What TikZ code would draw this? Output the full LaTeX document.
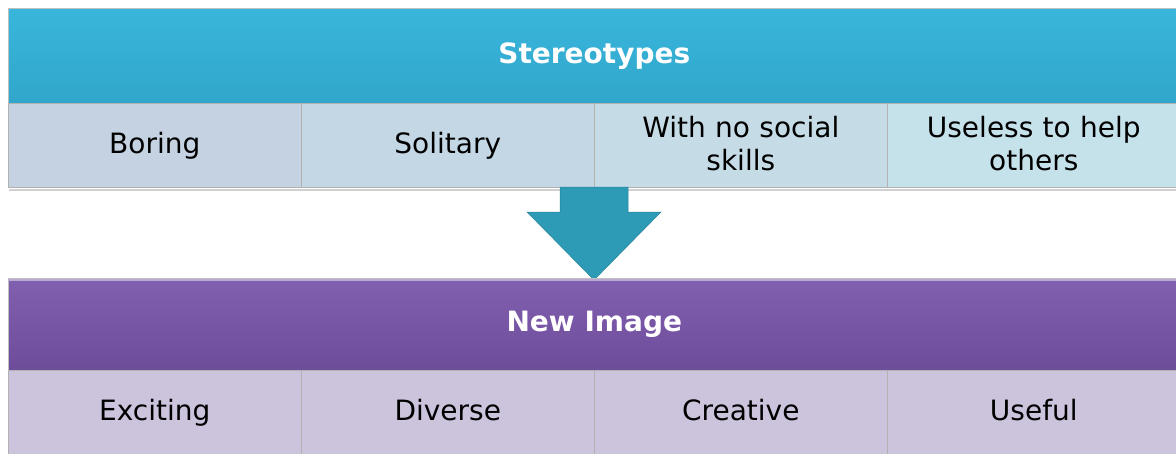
\documentclass[tikz,border=0pt]{standalone}
\usepackage{fontspec}
\setmainfont{DejaVu Sans}

\definecolor{headBlueTop}{HTML}{39B6DC}
\definecolor{headBlueBot}{HTML}{31A6CB}
\definecolor{cellBlueA}{HTML}{C4D2E2}
\definecolor{cellBlueB}{HTML}{C5E1EA}
\definecolor{headPurpTop}{HTML}{8260B0}
\definecolor{headPurpBot}{HTML}{6D4C9A}
\definecolor{cellPurp}{HTML}{CCC3DC}
\definecolor{arrowTeal}{HTML}{2E9BB6}

\newcommand\cellstrut{\rule[-7pt]{0pt}{31pt}}

\begin{document}
\begin{tikzpicture}[x=1pt,y=-1pt,
    head/.style={anchor=north west,inner sep=0pt,minimum width=1172pt,
        minimum height=#1,draw=white!75!black,line width=0.6pt,
        text=white,font=\fontsize{28}{33}\selectfont\bfseries},
    cell/.style={anchor=north west,inner sep=0pt,minimum width=293pt,
        minimum height=84pt,draw=white!70!black,line width=0.6pt,
        align=center,text width=280pt,font=\fontsize{28}{33}\selectfont,
        execute at begin node=\cellstrut,execute at end node=\cellstrut}]
    \clip (0,0) rectangle (1176,453);

    % top block
    \path[fill=black!18] (9,189) rectangle (1176,191);
    \node[head=95pt,top color=headBlueTop,bottom color=headBlueBot]
        (stereo) at (8,8) {Stereotypes};
    \foreach \i/\txt in {0/Boring,1/Solitary,2/{With no social\\skills},3/{Useless to help\\others}}{
        \pgfmathtruncatemacro\mix{100-33*\i}
        \node[cell,fill=cellBlueA!\mix!cellBlueB] (top\i) at (8+293*\i,103) {\txt};
    }

    % arrow
    \path[fill=arrowTeal,draw=arrowTeal!85!black,line width=0.5pt]
        (560,187) -- ++(0,25) -- ++(-33,0) -- ++(67,68)
        -- ++(67,-68) -- ++(-33,0) -- ++(0,-25) -- cycle;

    % bottom block
    \node[head=92pt,top color=headPurpTop,bottom color=headPurpBot]
        (newimg) at (8,278) {New Image};
    \path[draw=headPurpTop!55!white,line width=2pt] ([yshift=-2pt]newimg.north west) -- ([yshift=-2pt]newimg.north east);
    \foreach \i/\txt in {0/Exciting,1/Diverse,2/Creative,3/Useful}
        \node[cell,fill=cellPurp] (bot\i) at (8+293*\i,370) {\txt};

\end{tikzpicture}
\end{document}
